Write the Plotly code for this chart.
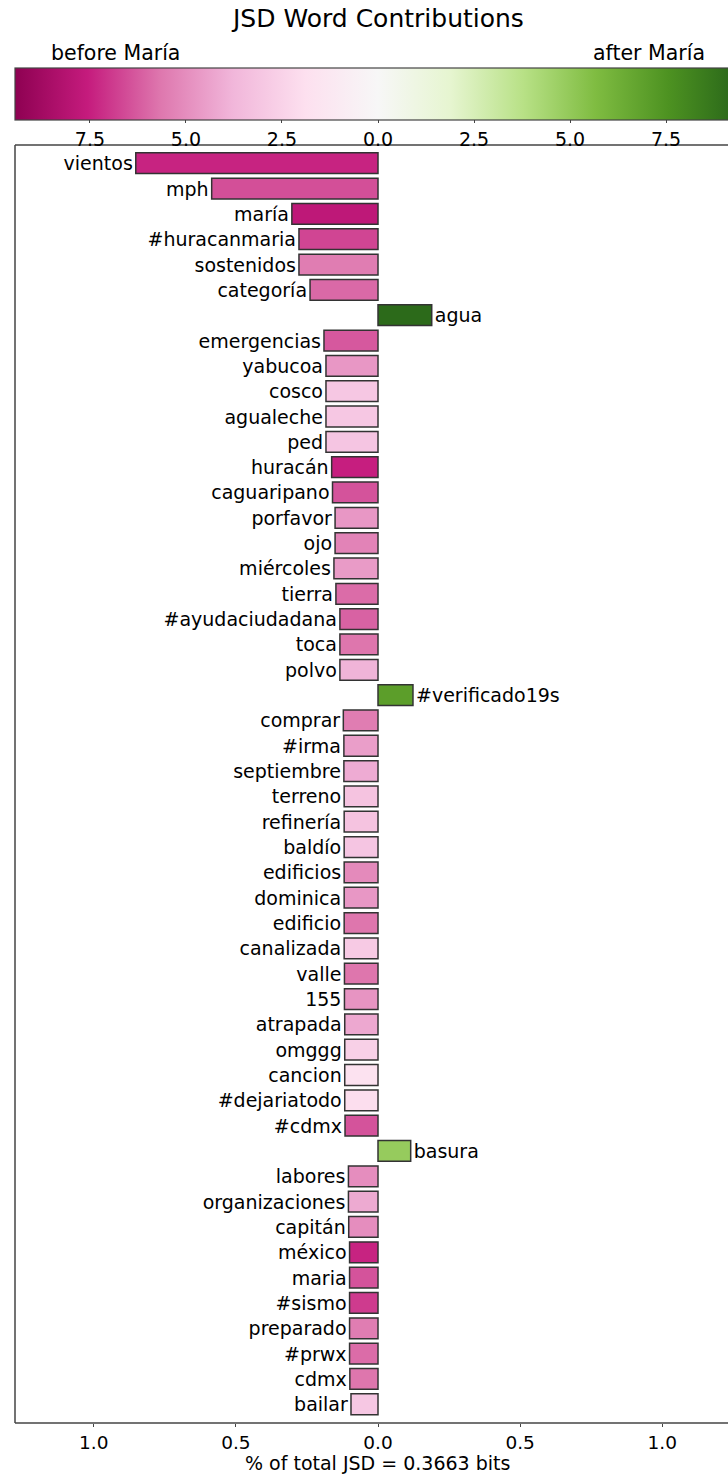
import plotly.graph_objects as go

words = ["vientos", "mph", "maría", "#huracanmaria", "sostenidos", "categoría", "agua",
         "emergencias", "yabucoa", "cosco", "agualeche", "ped", "huracán", "caguaripano",
         "porfavor", "ojo", "miércoles", "tierra", "#ayudaciudadana", "toca", "polvo",
         "#verificado19s", "comprar", "#irma", "septiembre", "terreno", "refinería", "baldío",
         "edificios", "dominica", "edificio", "canalizada", "valle", "155", "atrapada",
         "omggg", "cancion", "#dejariatodo", "#cdmx", "basura", "labores", "organizaciones",
         "capitán", "méxico", "maria", "#sismo", "preparado", "#prwx", "cdmx", "bailar"]

# signed contribution (% of total JSD); negative = before María
contrib = [-0.852, -0.585, -0.303, -0.278, -0.278, -0.239, 0.189,
           -0.190, -0.183, -0.183, -0.183, -0.183, -0.163, -0.160,
           -0.151, -0.151, -0.155, -0.148, -0.134, -0.134, -0.134,
           0.123, -0.122, -0.120, -0.120, -0.119, -0.119, -0.119,
           -0.119, -0.119, -0.119, -0.119, -0.118, -0.118, -0.117,
           -0.117, -0.117, -0.117, -0.116, 0.115, -0.104, -0.104,
           -0.103, -0.100, -0.100, -0.100, -0.100, -0.100, -0.099, -0.095]

# colour value on the colorbar scale (negative = before María)
shade = [-7.4, -6.5, -7.8, -6.7, -5.5, -5.95, 9.2,
         -6.3, -4.7, -3.0, -3.0, -3.1, -7.5, -6.4,
         -4.7, -5.3, -4.6, -5.9, -6.1, -5.7, -3.85,
         7.0, -5.5, -4.5, -4.1, -3.2, -3.2, -3.1,
         -5.1, -4.7, -5.7, -2.9, -5.7, -4.8, -4.2,
         -2.6, -1.7, -2.0, -6.4, 4.9, -5.0, -4.15,
         -5.0, -7.4, -6.4, -6.9, -5.5, -5.9, -5.7, -3.0]

cbar_tickvals = [-7.5, -5.0, -2.5, 0.0, 2.5, 5.0, 7.5]
cbar_ticktext = ["7.5", "5.0", "2.5", "0.0", "2.5", "5.0", "7.5"]
x_tickvals = [-1.0, -0.5, 0.0, 0.5, 1.0]
x_ticktext = ["1.0", "0.5", "0.0", "0.5", "1.0"]

FONT = "DejaVu Sans"
W, H = 728, 1475
L, R, T, B = 15, 0, 145, 52
plot_h = H - T - B
plot_w = W - L - R
px_per_unit = 284.3
zero_px = 378


def px_x(x):
    return (x - L) / plot_w


def px_y(y):
    return (H - B - y) / plot_h


fig = go.Figure()
fig.add_trace(go.Bar(
    x=contrib, y=words, orientation="h",
    width=0.82,
    text=words, textposition="outside", cliponaxis=False, constraintext="none",
    textfont=dict(family=FONT, size=19, color="black"),
    marker=dict(
        color=shade, colorscale="PiYG", cmin=-9.45, cmax=9.45,
        line=dict(color="#333333", width=1.5),
        colorbar=dict(
            orientation="h", lenmode="pixels", len=726,
            thicknessmode="pixels", thickness=52,
            x=0, xanchor="left", y=px_y(67.5), yanchor="top",
            xpad=0, ypad=0,
            outlinecolor="#444444", outlinewidth=1.2,
            tickvals=cbar_tickvals, ticktext=cbar_ticktext,
            ticks="outside", ticklen=3, tickcolor="#444444",
            tickfont=dict(family=FONT, size=19, color="black"),
        ),
    ),
    hoverinfo="skip",
))

frame = dict(color="#444444", width=1.5)
fig.update_layout(
    width=W, height=H,
    margin=dict(l=L, r=R, t=T, b=B, autoexpand=False),
    plot_bgcolor="white", paper_bgcolor="white",
    showlegend=False,
    font=dict(family=FONT, color="black"),
    xaxis=dict(range=[-(zero_px - L) / px_per_unit, (W - zero_px) / px_per_unit],
               tickvals=x_tickvals, ticktext=x_ticktext,
               ticks="outside", ticklen=3, tickcolor="#444444",
               tickfont=dict(family=FONT, size=18.5, color="black"),
               showgrid=False, zeroline=False, showline=False),
    yaxis=dict(range=[49.74, -0.72], showticklabels=False, ticks="",
               showgrid=False, zeroline=False, showline=False),
    shapes=[
        dict(type="line", xref="paper", yref="paper", x0=0, x1=0, y0=0, y1=1, line=frame),
        dict(type="line", xref="paper", yref="paper", x0=0, x1=1, y0=1, y1=1, line=frame),
        dict(type="line", xref="paper", yref="paper", x0=0, x1=1, y0=0, y1=0, line=frame),
    ],
    annotations=[
        dict(text="JSD Word Contributions", xref="paper", yref="paper",
             x=px_x(zero_px), y=px_y(18), xanchor="center", yanchor="middle",
             showarrow=False, font=dict(family=FONT, size=25, color="black")),
        dict(text="before María", xref="paper", yref="paper",
             x=px_x(49), y=px_y(53),
             xanchor="left", yanchor="middle", showarrow=False,
             font=dict(family=FONT, size=20.5, color="black")),
        dict(text="after María", xref="paper", yref="paper",
             x=px_x(707), y=px_y(53),
             xanchor="right", yanchor="middle", showarrow=False,
             font=dict(family=FONT, size=20.5, color="black")),
        dict(text="% of total JSD = 0.3663 bits", xref="paper", yref="paper",
             x=px_x(zero_px), y=px_y(1475),
             xanchor="center", yanchor="bottom", showarrow=False, borderpad=0,
             font=dict(family=FONT, size=19, color="black")),
    ],
)

fig.write_html("out.html", config={"displayModeBar": False},
               post_script="document.body.style.margin='0';document.body.style.overflow='hidden';")
